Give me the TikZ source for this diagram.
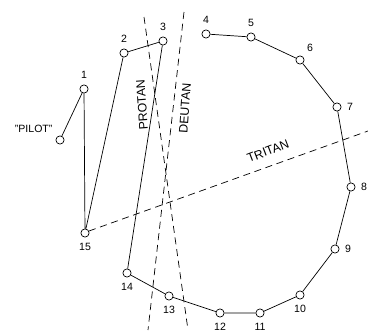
\documentclass[tikz,border=0pt]{standalone}
\usepackage{fontspec}
\setmainfont{Liberation Sans}
\begin{document}
\begin{tikzpicture}[x=0.03cm, y=-0.03cm, line width=0.6pt,
  pt/.style={draw, circle, inner sep=0pt, minimum size=7pt},
  lbl/.style={font=\fontsize{9}{10}\selectfont, inner sep=1pt},
  conf/.style={dash pattern=on 6pt off 4pt},
  cname/.style={font=\fontsize{10.5}{12}\selectfont, inner sep=0pt},
  label distance=3.5pt]
\useasboundingbox (0,0) rectangle (368,332);
% caps in order
\node[pt, label={[lbl]135:"PILOT"}] (pilot) at (60,140) {};
\node[pt, label={[lbl]above:1}] (p1) at (84,89) {};
\node[pt, label={[lbl]above:2}] (p2) at (124,53) {};
\node[pt, label={[lbl]above:3}] (p3) at (163,41) {};
\node[pt, label={[lbl]above:4}] (p4) at (206,34) {};
\node[pt, label={[lbl]above:5}] (p5) at (251,37) {};
\node[pt, label={[lbl]50:6}] (p6) at (300,60) {};
\node[pt, label={[lbl]right:7}] (p7) at (337,107) {};
\node[pt, label={[lbl]right:8}] (p8) at (351,187) {};
\node[pt, label={[lbl]right:9}] (p9) at (335,249) {};
\node[pt, label={[lbl]below:10}] (p10) at (300,295) {};
\node[pt, label={[lbl]below:11}] (p11) at (260,313) {};
\node[pt, label={[lbl]below:12}] (p12) at (220,313) {};
\node[pt, label={[lbl]below:13}] (p13) at (169,296) {};
\node[pt, label={[lbl]below:14}] (p14) at (127,273) {};
\node[pt, label={[lbl]below:15}] (p15) at (85,233) {};
\draw (pilot) -- (p1) -- (p15) -- (p2) -- (p3) -- (p14) -- (p13) -- (p12)
  -- (p11) -- (p10) -- (p9) -- (p8) -- (p7) -- (p6) -- (p5) -- (p4);
% confusion lines
\coordinate (prot-a) at (144,17);
\coordinate (prot-b) at (188,330);
\coordinate (deut-a) at (184,12);
\coordinate (deut-b) at (148,330);
\coordinate (trit-a) at (89,231);
\coordinate (trit-b) at (368,131);
\draw[conf] (prot-a) -- (prot-b);
\draw[conf] (deut-a) -- (deut-b);
\draw[conf] (trit-a) -- (trit-b);
\node[cname, rotate=94] (protan) at (142,105) {PROTAN};
\node[cname, rotate=86] (deutan) at (185,108) {DEUTAN};
\node[cname, rotate=21] (tritan) at (268,151) {TRITAN};
\end{tikzpicture}
\end{document}
